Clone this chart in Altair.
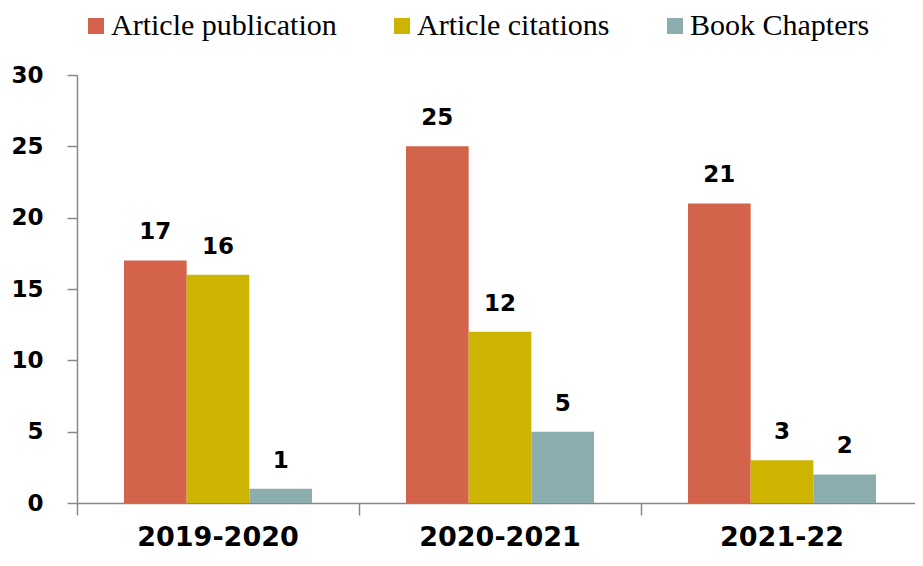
import altair as alt
import pandas as pd

years = ["2019-2020", "2020-2021", "2021-22"]
series = ["Article publication", "Article citations", "Book Chapters"]
article_publication = [17, 25, 21]
article_citations = [16, 12, 3]
book_chapters = [1, 5, 2]
colors = ["#D3644B", "#CDB400", "#8CADAD"]
y_ticks = [0, 5, 10, 15, 20, 25, 30]

rows = []
for name, vals in zip(series, [article_publication, article_citations, book_chapters]):
    for yr, v in zip(years, vals):
        rows.append({"Year": yr, "Series": name, "Value": v})
df = pd.DataFrame(rows)

W, H = 838, 428
RANGE_W = 846

x = alt.X(
    "Year:N", sort=years, title=None,
    scale=alt.Scale(paddingInner=0, paddingOuter=0, range=[0, RANGE_W]),
    axis=alt.Axis(
        bandPosition=0, labelAngle=0, tickSize=12,
        domainColor="#888888", tickColor="#888888", domainWidth=1.5, tickWidth=1.5,
        labelFont="DejaVu Sans", labelFontWeight="bold", labelFontSize=27,
        labelColor="black", labelPadding=9,
    ),
)
xoff = alt.XOffset("Series:N", sort=series, scale=alt.Scale(paddingInner=0, paddingOuter=0.75))
y = alt.Y(
    "Value:Q", title=None,
    scale=alt.Scale(domain=[0, 30]),
    axis=alt.Axis(
        values=y_ticks, grid=False, tickSize=10,
        domainColor="#888888", tickColor="#888888", domainWidth=1.5, tickWidth=1.5,
        labelFont="DejaVu Sans", labelFontWeight="bold", labelFontSize=23,
        labelColor="black", labelPadding=24,
    ),
)
color = alt.Color(
    "Series:N", sort=series,
    scale=alt.Scale(domain=series, range=colors),
    legend=alt.Legend(
        title=None, orient="none", legendX=4, legendY=-64, direction="horizontal",
        symbolType="square", symbolSize=256, symbolStrokeWidth=0, symbolOpacity=1,
        labelFont="Liberation Serif", labelFontSize=30, labelColor="black",
        labelOffset=0, columnPadding=50, padding=0, labelLimit=400,
    ),
)

bars = alt.Chart().mark_bar(opacity=1).encode(x=x, xOffset=xoff, y=y, color=color)
labels = alt.Chart().mark_text(
    dy=-21, baseline="alphabetic", font="DejaVu Sans", fontWeight="bold",
    fontSize=23, color="black",
).encode(x=x, xOffset=xoff, y=y, text="Value:Q")

chart = alt.layer(bars, labels, data=df).properties(
    width=W, height=H,
    autosize=alt.AutoSizeParams(type="none"),
    padding={"left": 69, "top": 67, "right": 0, "bottom": 53},
).configure_view(stroke=None)

chart.save("out.html", embed_options={"renderer": "svg", "actions": False})
